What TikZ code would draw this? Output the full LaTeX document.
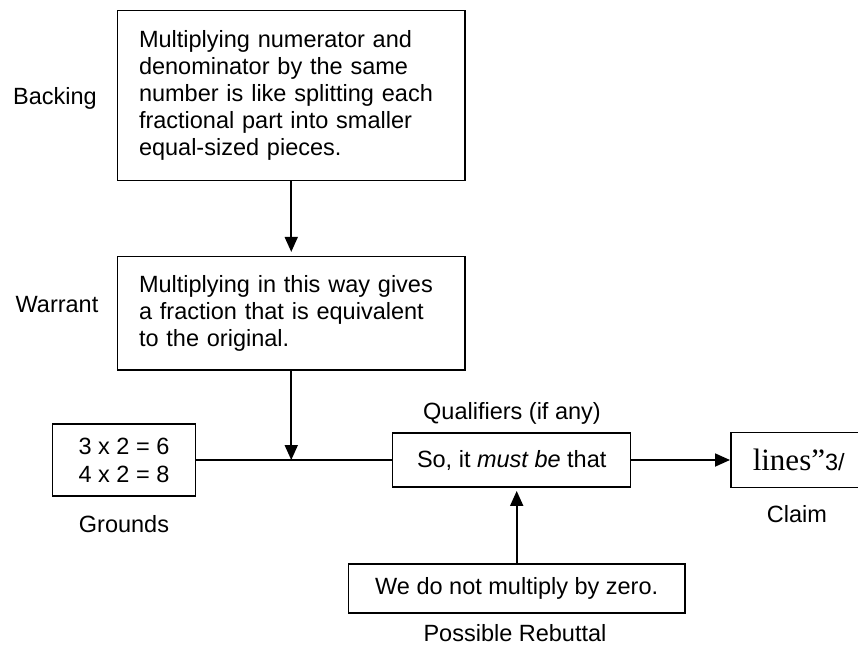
\documentclass[tikz,border=0pt]{standalone}
\usepackage{fontspec}
\setmainfont{Liberation Sans}
\newfontfamily\claimserif{Liberation Serif}
\usetikzlibrary{arrows.meta}
\begin{document}
\begin{tikzpicture}[x=1pt,y=-1pt,
  txt/.style={font=\fontsize{23.5}{27}\selectfont},
  box/.style={draw, line width=1.5pt, txt, inner sep=0pt},
  lbl/.style={txt, anchor=base, inner sep=0pt},
  arr/.style={line width=1.8pt, -{Triangle[length=15pt,width=13pt]}},
  link/.style={line width=1.3pt}]

\useasboundingbox (0,0) rectangle (858,647);
\clip (0,0) rectangle (858,647);

% argument boxes
\node[box, minimum width=347.5pt, minimum height=170pt, text width=304.5pt, align=left]
  (backing) at (291.25,95.7)
  {Multiplying numerator and\\ denominator by the same\\ number is like splitting each\\ fractional part into smaller\\ equal-sized pieces.};

\node[box, minimum width=347.5pt, minimum height=113.3pt, text width=304.5pt, align=left]
  (warrant) at (291.25,313.3)
  {Multiplying in this way gives\\ a fraction that is equivalent\\ to the original.};

\node[box, minimum width=142.6pt, minimum height=72.4pt, align=center,
  font=\fontsize{23.5}{28}\selectfont]
  (grounds) at (124,460) {3 x 2 = 6\\ 4 x 2 = 8};

\node[box, minimum width=238pt, minimum height=54.4pt]
  (qual) at (511.7,460) {So, it \textit{must be} that};

\node[box, anchor=west, minimum height=55pt, text width=110pt, align=left, inner xsep=22pt]
  (claim) at (730,460) {{\claimserif\fontsize{31}{31}\selectfont lines”}3/};

\node[box, minimum width=336.6pt, minimum height=48.7pt]
  (rebut) at (516.7,588.4) {We do not multiply by zero.};

% captions
\node[lbl] (backlbl) at (55,105) {Backing};
\node[lbl] (warlbl) at (57,312) {Warrant};
\node[lbl] (quallbl) at (512,419) {Qualifiers (if any)};
\node[lbl] (grdlbl) at (124,532) {Grounds};
\node[lbl] (claimlbl) at (797,522) {Claim};
\node[lbl] (rebutlbl) at (515,641) {Possible Rebuttal};

% connectors
\coordinate (j) at (warrant.south |- grounds.east);
\draw[link] (grounds.east) -- (qual.west);
\draw[arr] (warrant.south) -- (j);
\draw[arr, shorten >=4pt] (backing.south) -- (warrant.north);
\draw[arr] (qual.east) -- (claim.west);
\draw[arr, shorten >=3pt] (rebut.north) -- (rebut.north |- qual.south);
\end{tikzpicture}
\end{document}
